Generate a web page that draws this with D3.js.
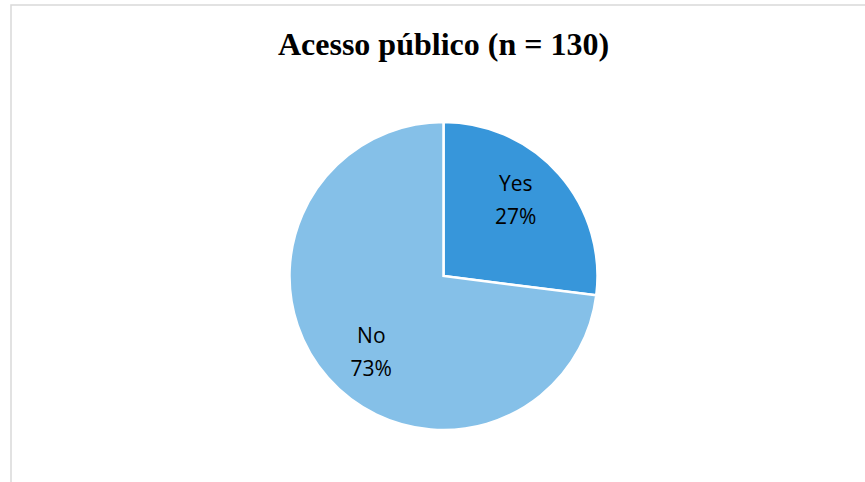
<!DOCTYPE html>
<html>
<head>
<meta charset="utf-8">
<script src="https://cdn.jsdelivr.net/npm/d3@7"></script>
<style>
  html, body { margin: 0; padding: 0; background: #fff; }
  svg { display: block; }
</style>
</head>
<body>
<svg id="chart" width="865" height="482"></svg>
<script>
// Public access: share of respondents (n = 130)
const categories = ["Yes", "No"];
const percents = [27, 73];
const sliceColors = ["#3796da", "#85c0e8"];
const titleText = "Acesso público (n = 130)";

const svg = d3.select("#chart");
const W = 865, H = 482;

// chart area frame
svg.append("rect")
  .attr("x", 11).attr("y", 5)
  .attr("width", W).attr("height", H)
  .attr("fill", "#fff")
  .attr("stroke", "#d9d9d9")
  .attr("stroke-width", 1.5);

svg.append("text")
  .attr("x", 443.5).attr("y", 55)
  .attr("text-anchor", "middle")
  .attr("font-family", "'Liberation Serif', 'Times New Roman', serif")
  .attr("font-weight", "bold")
  .attr("font-size", 32)
  .attr("fill", "#000")
  .text(titleText);

const cx = 443.5, cy = 276, r = 154;
const data = categories.map((c, i) => ({ name: c, value: percents[i], color: sliceColors[i] }));

const pie = d3.pie().sort(null).value(d => d.value);
const arc = d3.arc().innerRadius(0).outerRadius(r);

const g = svg.append("g").attr("transform", `translate(${cx},${cy})`);
const arcs = pie(data);

g.selectAll("path")
  .data(arcs)
  .join("path")
  .attr("d", arc)
  .attr("fill", d => d.data.color)
  .attr("stroke", "#fff")
  .attr("stroke-width", 2.5)
  .attr("stroke-linejoin", "miter");

// labels sit inside each slice, slightly counter-clockwise of the bisector
const labelRadius = r * 0.68;
const labelShift = -5 * Math.PI / 180;
function labelPos(d) {
  const a = (d.startAngle + d.endAngle) / 2 + labelShift;
  return [labelRadius * Math.sin(a), -labelRadius * Math.cos(a)];
}

const labels = g.selectAll("g.lbl")
  .data(arcs)
  .join("g")
  .attr("class", "lbl")
  .attr("transform", d => `translate(${labelPos(d)})`);

labels.append("text")
  .attr("text-anchor", "middle")
  .attr("y", -9)
  .attr("font-family", "'Open Sans', 'Liberation Sans', sans-serif")
  .attr("font-size", 21)
  .attr("fill", "#000")
  .text(d => d.data.name);

labels.append("text")
  .attr("text-anchor", "middle")
  .attr("y", 24)
  .attr("font-family", "'Open Sans', 'Liberation Sans', sans-serif")
  .attr("font-size", 21)
  .attr("fill", "#000")
  .text(d => d.data.value + "%");
</script>
</body>
</html>
